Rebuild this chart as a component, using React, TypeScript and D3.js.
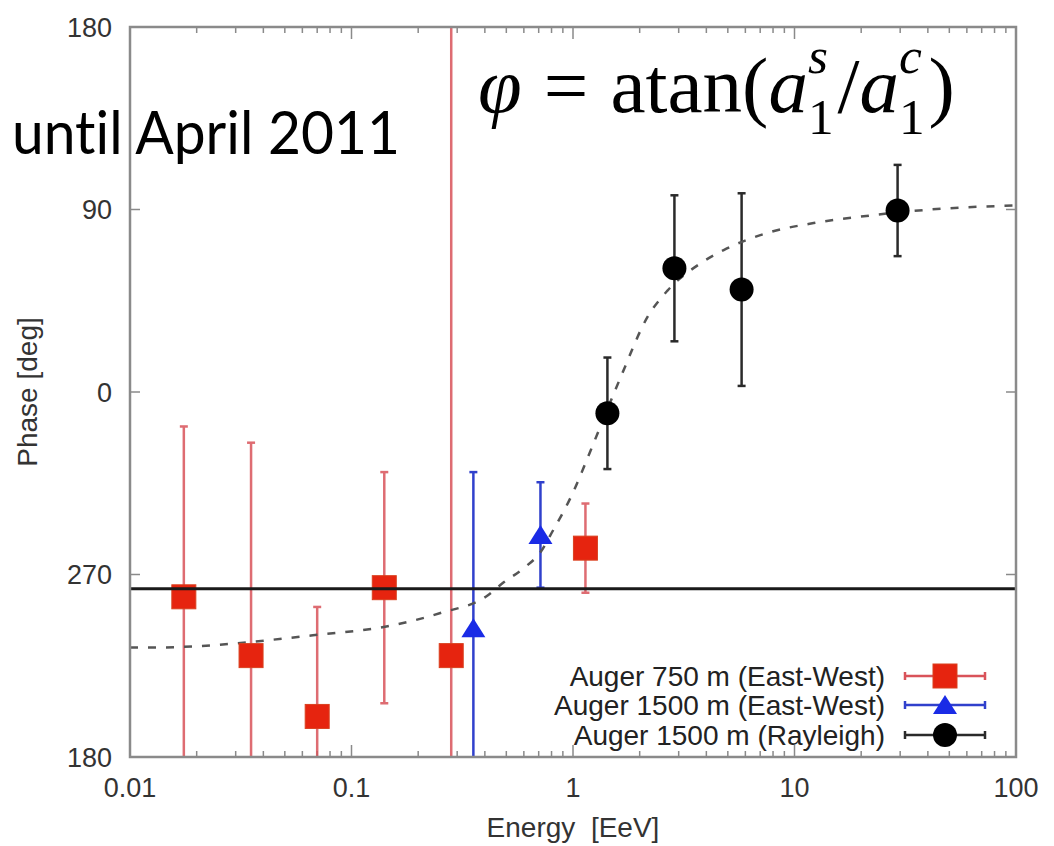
import React, { useEffect, useRef } from 'react';
import * as d3 from 'd3';

const W = 1054;
const H = 846;

// Auger 750 m (East-West): energy [EeV], phase [deg], 1-sigma error [deg]
const ew750Energy = [0.0175, 0.0352, 0.07, 0.1406, 0.282, 1.138];
const ew750Phase = [-101, -130, -160, -96.5, -130, -77];
const ew750Err = [84, 105, 54, 57, 320, 22];

// Auger 1500 m (East-West)
const ew1500Energy = [0.355, 0.713];
const ew1500Phase = [-116.5, -70.5];
const ew1500Err = [77, 26];

// Auger 1500 m (Rayleigh)
const rayEnergy = [1.43, 2.87, 5.77, 29.2];
const rayPhase = [-10.5, 61, 50.5, 89.5];
const rayErr = [27.5, 36, 47.5, 22.5];

// Fitted phase transition (dashed)
const fitEnergy = [0.01, 0.0127, 0.067, 0.154, 0.252, 0.41, 0.485, 0.597, 0.713, 0.815, 0.906, 1.025, 1.115, 1.236, 1.637, 2.17, 2.67, 3.77, 4.79, 7.56, 12.2, 19.3, 41.2, 100];
const fitPhase = [-126, -126, -120, -115, -109, -100.5, -94, -87, -79, -68, -59, -47, -37.5, -25.5, 7, 37, 50, 63.5, 70, 78.5, 83.3, 86.3, 90, 92];

// Reference phase (solid horizontal line)
const referencePhase = -97;

const xTickValues = [0.01, 0.1, 1, 10, 100];
const xTickLabels = ['0.01', '0.1', '1', '10', '100'];
const yTickValues = [180, 90, 0, -90, -180];
const yTickLabels = ['180', '90', '0', '270', '180'];

const seriesLabels = ['Auger 750 m (East-West)', 'Auger 1500 m (East-West)', 'Auger 1500 m (Rayleigh)'];

const SANS = '"Liberation Sans", Arial, Helvetica, sans-serif';
const SERIF = '"Liberation Serif", "DejaVu Serif", serif';

export default function App() {
  const ref = useRef<SVGSVGElement | null>(null);

  useEffect(() => {
    const svg = d3.select(ref.current);
    svg.selectAll('*').remove();

    const left = 130, right = 1016, top = 27, bottom = 757;
    const x = d3.scaleLog().domain([0.01, 100]).range([left, right]);
    const y = d3.scaleLinear().domain([-180, 180]).range([bottom, top]);

    svg.append('rect').attr('width', W).attr('height', H).attr('fill', '#fff');

    const defs = svg.append('defs');
    defs.append('clipPath').attr('id', 'plot-clip')
      .append('rect').attr('x', left).attr('y', top).attr('width', right - left).attr('height', bottom - top);

    const axisColor = '#8a8a8a';

    // ticks (inward, on all four sides)
    const ticksG = svg.append('g').attr('stroke', axisColor).attr('stroke-width', 1.5);
    const minor: number[] = [];
    for (let dec = -2; dec < 2; dec++) {
      for (let m = 2; m <= 9; m++) minor.push(m * Math.pow(10, dec));
    }
    minor.forEach((v) => {
      ticksG.append('line').attr('x1', x(v)).attr('x2', x(v)).attr('y1', bottom).attr('y2', bottom - 6);
      ticksG.append('line').attr('x1', x(v)).attr('x2', x(v)).attr('y1', top).attr('y2', top + 6);
    });
    xTickValues.forEach((v) => {
      ticksG.append('line').attr('x1', x(v)).attr('x2', x(v)).attr('y1', bottom).attr('y2', bottom - 12);
      ticksG.append('line').attr('x1', x(v)).attr('x2', x(v)).attr('y1', top).attr('y2', top + 12);
    });
    yTickValues.forEach((v) => {
      ticksG.append('line').attr('x1', left).attr('x2', left + 10).attr('y1', y(v)).attr('y2', y(v));
      ticksG.append('line').attr('x1', right).attr('x2', right - 10).attr('y1', y(v)).attr('y2', y(v));
    });

    // tick labels
    xTickValues.forEach((v, i) => {
      svg.append('text').attr('x', x(v)).attr('y', 797)
        .attr('text-anchor', 'middle').attr('font-family', SANS).attr('font-size', 27).attr('fill', '#333')
        .text(xTickLabels[i]);
    });
    yTickValues.forEach((v, i) => {
      svg.append('text').attr('x', 112).attr('y', y(v)).attr('dy', '0.36em')
        .attr('text-anchor', 'end').attr('font-family', SANS).attr('font-size', 27).attr('fill', '#333')
        .text(yTickLabels[i]);
    });

    // axis titles
    svg.append('text').attr('x', (left + right) / 2).attr('y', 837)
      .attr('text-anchor', 'middle').attr('font-family', SANS).attr('font-size', 28).attr('fill', '#333')
      .attr('xml:space', 'preserve').text('Energy  [EeV]');
    svg.append('text').attr('transform', `translate(37, ${(top + bottom) / 2}) rotate(-90)`)
      .attr('text-anchor', 'middle').attr('font-family', SANS).attr('font-size', 28).attr('fill', '#333')
      .text('Phase [deg]');

    const plot = svg.append('g').attr('clip-path', 'url(#plot-clip)');

    type Pt = { e: number; p: number; err: number };
    const toPts = (es: number[], ps: number[], errs: number[]): Pt[] =>
      es.map((e, i) => ({ e, p: ps[i], err: errs[i] }));

    const drawErrors = (pts: Pt[], color: string, opacity: number) => {
      const g = plot.append('g').attr('stroke', color).attr('stroke-width', 2.5).attr('opacity', opacity);
      pts.forEach((d) => {
        const cx = x(d.e);
        g.append('line').attr('x1', cx).attr('x2', cx).attr('y1', y(d.p - d.err)).attr('y2', y(d.p + d.err));
        [d.p - d.err, d.p + d.err].forEach((v) => {
          if (v > -180 && v < 180) {
            g.append('line').attr('x1', cx - 4).attr('x2', cx + 4).attr('y1', y(v)).attr('y2', y(v));
          }
        });
      });
    };

    const ew750 = toPts(ew750Energy, ew750Phase, ew750Err);
    const ew1500 = toPts(ew1500Energy, ew1500Phase, ew1500Err);
    const ray = toPts(rayEnergy, rayPhase, rayErr);

    drawErrors(ew750, '#d9535a', 0.85);
    drawErrors(ew1500, '#3040cc', 1);
    drawErrors(ray, '#2a2a2a', 1);

    // fitted curve
    const fitPts = fitEnergy.map((e, i) => [x(e), y(fitPhase[i])] as [number, number]);
    plot.append('path')
      .attr('d', d3.line().curve(d3.curveMonotoneX)(fitPts) as string)
      .attr('fill', 'none').attr('stroke', '#555').attr('stroke-width', 2.5)
      .attr('stroke-dasharray', '8,10');

    const sq = 24;
    const drawSquare = (g: any, cx: number, cy: number) =>
      g.append('rect').attr('x', cx - sq / 2).attr('y', cy - sq / 2).attr('width', sq).attr('height', sq)
        .attr('fill', '#e6240f').attr('stroke', '#d9401f').attr('stroke-width', 1);
    const drawTriangle = (g: any, cx: number, cy: number) =>
      g.append('path')
        .attr('d', `M${cx},${cy - 10} L${cx + 12},${cy + 9} L${cx - 12},${cy + 9} Z`)
        .attr('fill', '#1a2be6');
    const drawCircle = (g: any, cx: number, cy: number) =>
      g.append('circle').attr('cx', cx).attr('cy', cy).attr('r', 12).attr('fill', '#000');

    ew750.forEach((d) => drawSquare(plot, x(d.e), y(d.p)));
    ew1500.forEach((d) => drawTriangle(plot, x(d.e), y(d.p)));
    ray.forEach((d) => drawCircle(plot, x(d.e), y(d.p)));

    // reference phase line
    plot.append('line').attr('x1', left).attr('x2', right)
      .attr('y1', y(referencePhase)).attr('y2', y(referencePhase))
      .attr('stroke', '#1a1a1a').attr('stroke-width', 3);

    // frame
    svg.append('rect').attr('x', left).attr('y', top).attr('width', right - left).attr('height', bottom - top)
      .attr('fill', 'none').attr('stroke', axisColor).attr('stroke-width', 2.5);

    // legend
    const legend = svg.append('g');
    const rowY = [676, 705, 735];
    const sampleColors = ['#d9535a', '#3040cc', '#2a2a2a'];
    const drawers = [drawSquare, drawTriangle, drawCircle];
    seriesLabels.forEach((label, i) => {
      const ry = rowY[i];
      legend.append('text').attr('x', 885).attr('y', ry).attr('dy', '0.36em')
        .attr('text-anchor', 'end').attr('font-family', SANS).attr('font-size', 28).attr('fill', '#222')
        .text(label);
      const lg = legend.append('g').attr('stroke', sampleColors[i]).attr('stroke-width', 2.5);
      lg.append('line').attr('x1', 905).attr('x2', 985).attr('y1', ry).attr('y2', ry);
      lg.append('line').attr('x1', 905).attr('x2', 905).attr('y1', ry - 4).attr('y2', ry + 4);
      lg.append('line').attr('x1', 985).attr('x2', 985).attr('y1', ry - 4).attr('y2', ry + 4);
      drawers[i](legend, 945, ry);
    });

    // overlay caption
    svg.append('text').attr('x', 12).attr('y', 154)
      .attr('font-family', 'Lato, "Open Sans", sans-serif').attr('font-size', 60).attr('fill', '#000')
      .style('font-variant-ligatures', 'none').style('font-feature-settings', '"liga" 0')
      .attr('textLength', 388).attr('lengthAdjust', 'spacingAndGlyphs')
      .text('until April 2011');

    // formula: φ = atan(a1^s / a1^c), set as one text element
    const F = 60;
    const S = 0.65 * F;
    const measure = (t: string, size: number, italic: boolean) => {
      const tmp = svg.append('text').attr('font-family', SERIF).attr('font-size', size)
        .attr('font-style', italic ? 'italic' : 'normal').text(t);
      const w = (tmp.node() as SVGTextElement).getComputedTextLength();
      tmp.remove();
      return w;
    };
    const fg = svg.append('g');
    const ft = fg.append('text').attr('x', 0).attr('y', 0)
      .attr('font-family', SERIF).attr('font-size', F).attr('fill', '#000');
    const span = (t: string, opts: { italic?: boolean; size?: number; dx?: number; dy?: number }) => {
      const sp = ft.append('tspan').text(t);
      if (opts.italic) sp.attr('font-style', 'italic');
      if (opts.size) sp.attr('font-size', opts.size);
      if (opts.dx) sp.attr('dx', opts.dx);
      if (opts.dy) sp.attr('dy', opts.dy);
    };
    const supUp = -0.49 * F;
    const subDown = 0.77 * F;
    const scripts = (supT: string, nextDx: number) => {
      const supW = measure(supT, S, true);
      const subW = measure('1', S, false);
      span(supT, { italic: true, size: S, dy: supUp });
      span('1', { size: S, dx: -supW, dy: subDown });
      return Math.max(0, supW - subW) + nextDx;
    };
    span('φ', { italic: true });
    span('=', { dx: 0.28 * F });
    span('atan(', { dx: 0.28 * F });
    span('a', { italic: true });
    const back1 = scripts('s', 0.05 * F);
    span('/', { dx: back1, dy: -(supUp + subDown) });
    span('a', { italic: true });
    const back2 = scripts('c', 0.05 * F);
    span(')', { dx: back2, dy: -(supUp + subDown) });
    const bb = (ft.node() as SVGTextElement).getBBox();
    const s = 477 / bb.width;
    fg.attr('transform', `translate(${478 - bb.x * s}, 112) scale(${s})`);
  }, []);

  return (
    <svg
      ref={ref}
      width={W}
      height={H}
      style={{ position: 'absolute', left: 0, top: 0, display: 'block' }}
    />
  );
}
